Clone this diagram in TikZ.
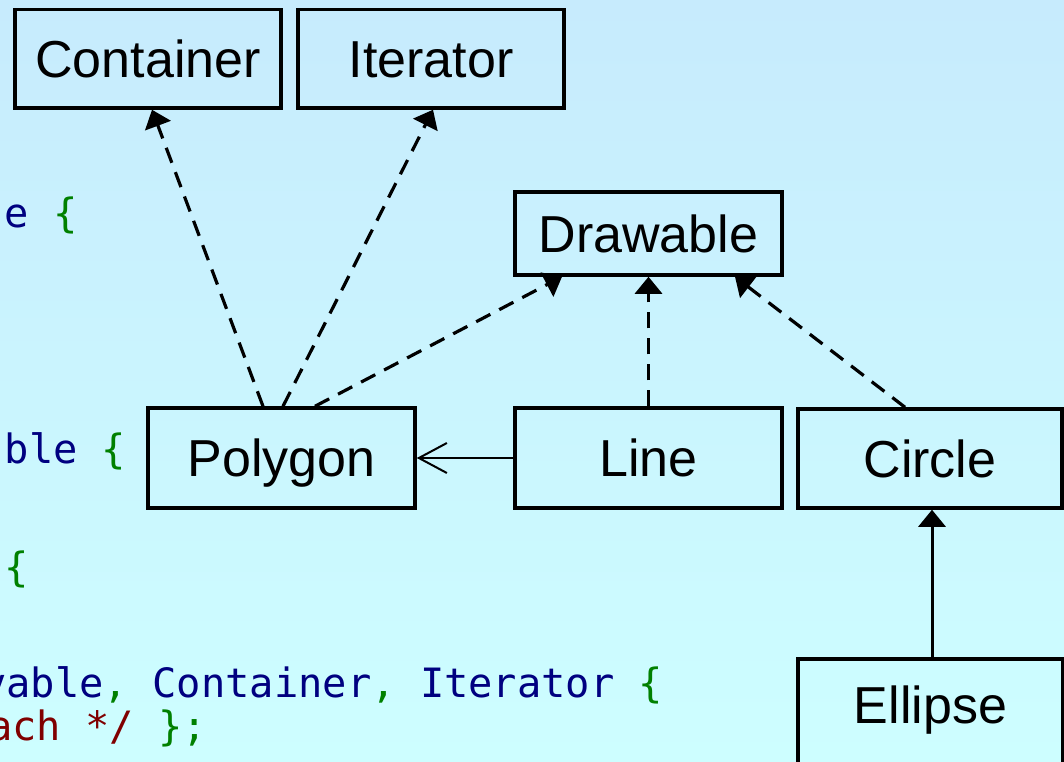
\documentclass[tikz,border=0pt]{standalone}
\usepackage{fontspec}
\setmainfont{Liberation Sans}
\newfontfamily\codefont{DejaVu Sans Mono}
\usetikzlibrary{arrows.meta}
\definecolor{bgtop}{RGB}{199,235,253}
\definecolor{bgbot}{RGB}{205,254,255}
\definecolor{codeid}{RGB}{0,0,128}
\definecolor{codepunct}{RGB}{0,128,0}
\definecolor{codecomment}{RGB}{128,0,0}
\begin{document}
\begin{tikzpicture}[x=1pt,y=-1pt,
  umlbox/.style={draw, line width=3.5pt, inner sep=0pt,
    font=\fontsize{52}{60}\selectfont, text height=37pt, text depth=0pt},
  dep/.style={line width=3.2pt, dash pattern=on 16pt off 10pt,
    -{Triangle[length=17pt,width=27pt]}},
  gen/.style={line width=3pt, -{Triangle[length=17pt,width=27pt]}},
  assoc/.style={line width=2pt, -{Straight Barb[length=28pt,width=30pt]}},
  code/.style={anchor=base west, inner sep=0pt,
    font=\codefont\fontsize{40.4}{48}\selectfont}]

% background
\useasboundingbox (0,0) rectangle (1064,761);
\shade[top color=bgtop, bottom color=bgbot] (0,0) rectangle (1064,761);

% source code fragments at the left
\node[code] (c1) at (4.5,227) {\color{codeid}e \color{codepunct}\{};
\node[code] (c2) at (4.5,463) {\color{codeid}ble \color{codepunct}\{};
\node[code] (c3) at (4,581) {\color{codepunct}\{};
\node[code] (c4) at (-18,697) {\color{codeid}vable\color{codepunct}, \color{codeid}Container\color{codepunct}, \color{codeid}Iterator \color{codepunct}\{};
\node[code] (c5) at (-12,740) {\color{codecomment}ach */ \color{codepunct}\};};

% classes
\node[umlbox, minimum width=266pt, minimum height=98.5pt] (cont) at (148,58.75) {Container};
\node[umlbox, minimum width=266pt, minimum height=98.5pt] (iter) at (431,58.75) {Iterator};
\node[umlbox, minimum width=267pt, minimum height=83pt] (drw) at (648.5,233.5) {Drawable};
\node[umlbox, minimum width=267pt, minimum height=100pt] (poly) at (281.5,458) {Polygon};
\node[umlbox, minimum width=267pt, minimum height=100pt] (line) at (648.5,458) {Line};
\node[umlbox, minimum width=264pt, minimum height=99pt] (circ) at (930,458.5) {Circle};
\node[umlbox, minimum width=265pt, minimum height=110pt, text depth=19pt] (ell) at (930.5,714) {Ellipse};

% realizations
\draw[dep] ([xshift=116.75pt]poly.north west) -- ([xshift=138.75pt]cont.south west);
\draw[dep] ([xshift=136.75pt]poly.north west) -- ([xshift=136.75pt]iter.south west);
\draw[dep] ([xshift=168.75pt]poly.north west) -- ([xshift=48.75pt]drw.south west);
\draw[dep] (line.north) -- (drw.south);
\draw[dep] ([xshift=108.75pt]circ.north west) -- ([xshift=221.75pt]drw.south west);

% association and inheritance
\draw[assoc] (line.west) -- (poly.east);
\draw[gen] ([xshift=135.75pt]ell.north west) -- ([xshift=135.75pt]circ.south west);
\end{tikzpicture}
\end{document}
